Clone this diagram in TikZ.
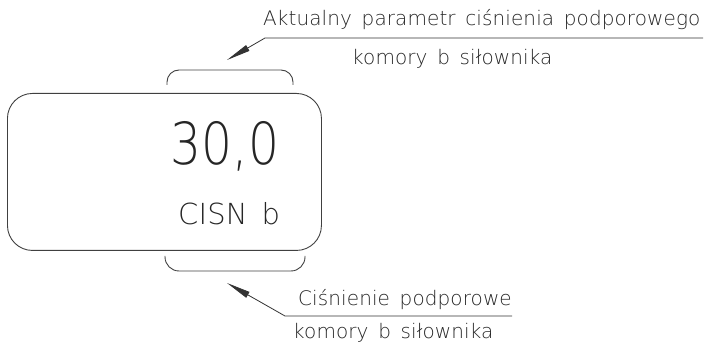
\documentclass[tikz,border=0pt]{standalone}
\usepackage{fontspec}
\setmainfont{DejaVu Sans ExtraLight}[LetterSpace=0.5, WordSpace=1.5]
\usetikzlibrary{arrows.meta}
\begin{document}
\begin{tikzpicture}[x=1pt,y=-1pt]
\tikzset{
  lbl/.style={inner sep=0pt, text=black!85, font=\fontsize{20}{24}\selectfont, anchor=base west},
  lead/.style={draw=black!80, line width=0.8pt},
  tip/.style={-{Triangle[length=24pt,width=6.5pt]}},
  outline/.style={draw=black!75, line width=0.9pt},
  brk/.style={outline, line join=round}
}
\useasboundingbox (0,0) rectangle (704,344);
% display
\node[outline, rounded corners=25pt, minimum width=314pt, minimum height=157pt, anchor=north west, inner sep=0pt] (disp) at (7,93) {};
% brackets
\draw[brk, rounded corners=12pt] (167,85) -- (167,70) -- (293,70) -- (293,85);
\draw[brk, rounded corners=14pt] (165,256) -- (165,271) -- (305,271) -- (305,256);
% value texts
\node[lbl] (val) at (170,165) {\scalebox{0.84}[1]{\fontsize{58}{60}\selectfont 30,0}};
\node[lbl] (cisn) at (178,225) {\fontsize{29}{32}\selectfont CISN b};
% labels
\node[lbl] (top1) at (263,26) {Aktualny parametr ciśnienia podporowego};
\node[lbl] (top2) at (352,65) {komory b siłownika};
\node[lbl] (bot1) at (298,306) {Ciśnienie podporowe};
\node[lbl] (bot2) at (293,339) {komory b siłownika};
% leaders
\coordinate (t1) at (703,38);
\coordinate (t2) at (265,38);
\coordinate (ta) at (227,60);
\draw[lead, tip] (t1) -- (t2) -- (ta);
\coordinate (b1) at (512,316);
\coordinate (b2) at (285,316);
\coordinate (ba) at (227,283);
\draw[lead, tip] (b1) -- (b2) -- (ba);
\end{tikzpicture}
\end{document}
